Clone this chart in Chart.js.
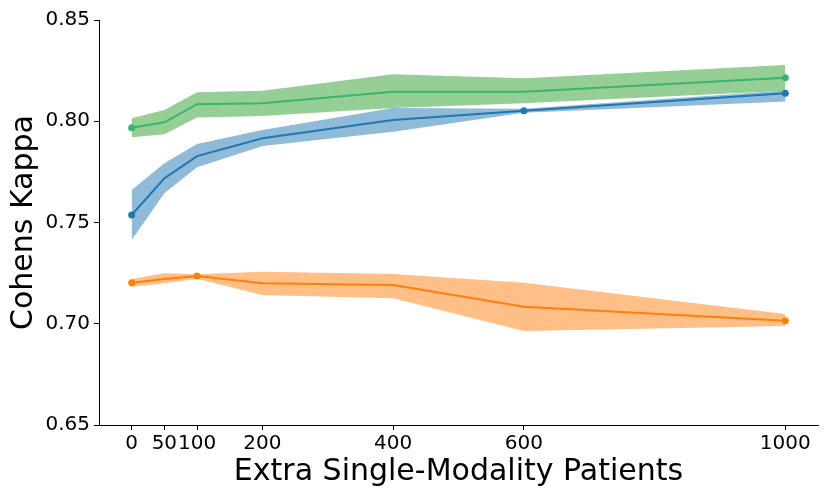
<!DOCTYPE html>
<html>
<head>
<meta charset="utf-8">
<script src="https://cdn.jsdelivr.net/npm/chart.js@4"></script>
<style>
  html, body { margin: 0; padding: 0; background: #fff; }
  #wrap { width: 830px; height: 498px; }
</style>
</head>
<body>
<div id="wrap"><canvas id="myChart" width="830" height="498"></canvas></div>
<script>
// --- data ---
const patients = [0, 50, 100, 200, 400, 600, 1000];
const xTicks = [0, 50, 100, 200, 400, 600, 1000];
const yTicks = [0.65, 0.70, 0.75, 0.80, 0.85];

const blueMean  = [0.7537, 0.7718, 0.7828, 0.7916, 0.8006, 0.8052, 0.8138];
const blueUpper = [0.7660, 0.7792, 0.7888, 0.7957, 0.8066, 0.8062, 0.8152];
const blueLower = [0.7414, 0.7644, 0.7773, 0.7878, 0.7948, 0.8042, 0.8097];
const blueMarks = [0, 5, 6];

const greenMean  = [0.7968, 0.7995, 0.8084, 0.8089, 0.8146, 0.8146, 0.8215];
const greenUpper = [0.8015, 0.8056, 0.8143, 0.8151, 0.8232, 0.8212, 0.8278];
const greenLower = [0.7921, 0.7936, 0.8018, 0.8026, 0.8065, 0.8089, 0.8151];
const greenMarks = [0, 6];

const orangeMean  = [0.7203, 0.7221, 0.7236, 0.7200, 0.7191, 0.7084, 0.7015];
const orangeUpper = [0.7221, 0.7249, 0.7245, 0.7257, 0.7246, 0.7203, 0.7048];
const orangeLower = [0.7183, 0.7200, 0.7222, 0.7142, 0.7126, 0.6964, 0.6989];
const orangeMarks = [0, 2, 6];

const pts = (arr) => arr.map((v, i) => ({ x: patients[i], y: v }));

const band = (arr, color, target, order) => ({
    data: pts(arr),
    borderWidth: 0,
    pointRadius: 0,
    backgroundColor: color,
    fill: target === null ? false : { target: target },
    order: order,
});

const line = (arr, color, marks) => ({
    data: pts(arr),
    borderColor: color,
    backgroundColor: color,
    borderWidth: 2,
    fill: false,
    pointRadius: (ctx) => marks.includes(ctx.dataIndex) ? 3.5 : 0,
    pointBorderWidth: 0,
    order: 0,
});

const datasets = [
    band(blueUpper, "rgba(31,119,180,0.5)", 1, 3),
    band(blueLower, "rgba(31,119,180,0.5)", null, 3),
    band(greenUpper, "rgba(44,160,44,0.5)", 3, 2),
    band(greenLower, "rgba(44,160,44,0.5)", null, 2),
    band(orangeUpper, "rgba(255,127,14,0.5)", 5, 2),
    band(orangeLower, "rgba(255,127,14,0.5)", null, 2),
    line(blueMean, "#1f77b4", blueMarks),
    line(greenMean, "#3cb371", greenMarks),
    line(orangeMean, "#ff7f0e", orangeMarks),
];

const font = "'DejaVu Sans', sans-serif";

const ctx = document.getElementById("myChart").getContext("2d");
new Chart(ctx, {
    type: "line",
    data: { datasets: datasets },
    options: {
        responsive: false,
        animation: false,
        layout: { padding: { top: 20, right: 12, left: 0, bottom: 0 } },
        plugins: { legend: { display: false }, tooltip: { enabled: false } },
        elements: { line: { tension: 0 } },
        scales: {
            x: {
                type: "linear",
                min: -50,
                max: 1050,
                afterBuildTicks: (axis) => { axis.ticks = xTicks.map((v) => ({ value: v })); },
                afterFit: (axis) => { axis.height = 73; },
                grid: { drawOnChartArea: false, drawTicks: true, tickLength: 5, color: "#000" },
                border: { display: true, color: "#000", width: 1 },
                ticks: {
                    color: "#000",
                    maxRotation: 0,
                    autoSkip: false,
                    padding: 2,
                    callback: (v) => String(v),
                    font: { size: 20, family: font },
                },
                title: {
                    display: true,
                    text: "Extra Single-Modality Patients",
                    color: "#000",
                    padding: { top: 0, bottom: 8 },
                    font: { size: 30, family: font },
                },
            },
            y: {
                min: 0.65,
                max: 0.85,
                afterBuildTicks: (axis) => { axis.ticks = yTicks.map((v) => ({ value: v })); },
                afterFit: (axis) => { axis.width = 99; },
                grid: { drawOnChartArea: false, drawTicks: true, tickLength: 5, color: "#000" },
                border: { display: true, color: "#000", width: 1 },
                ticks: {
                    color: "#000",
                    padding: 4,
                    callback: (v) => Number(v).toFixed(2),
                    font: { size: 20, family: font },
                },
                title: {
                    display: true,
                    text: "Cohens Kappa",
                    color: "#000",
                    padding: { top: 6, bottom: 0 },
                    font: { size: 30, family: font },
                },
            },
        },
    },
});
</script>
</body>
</html>
